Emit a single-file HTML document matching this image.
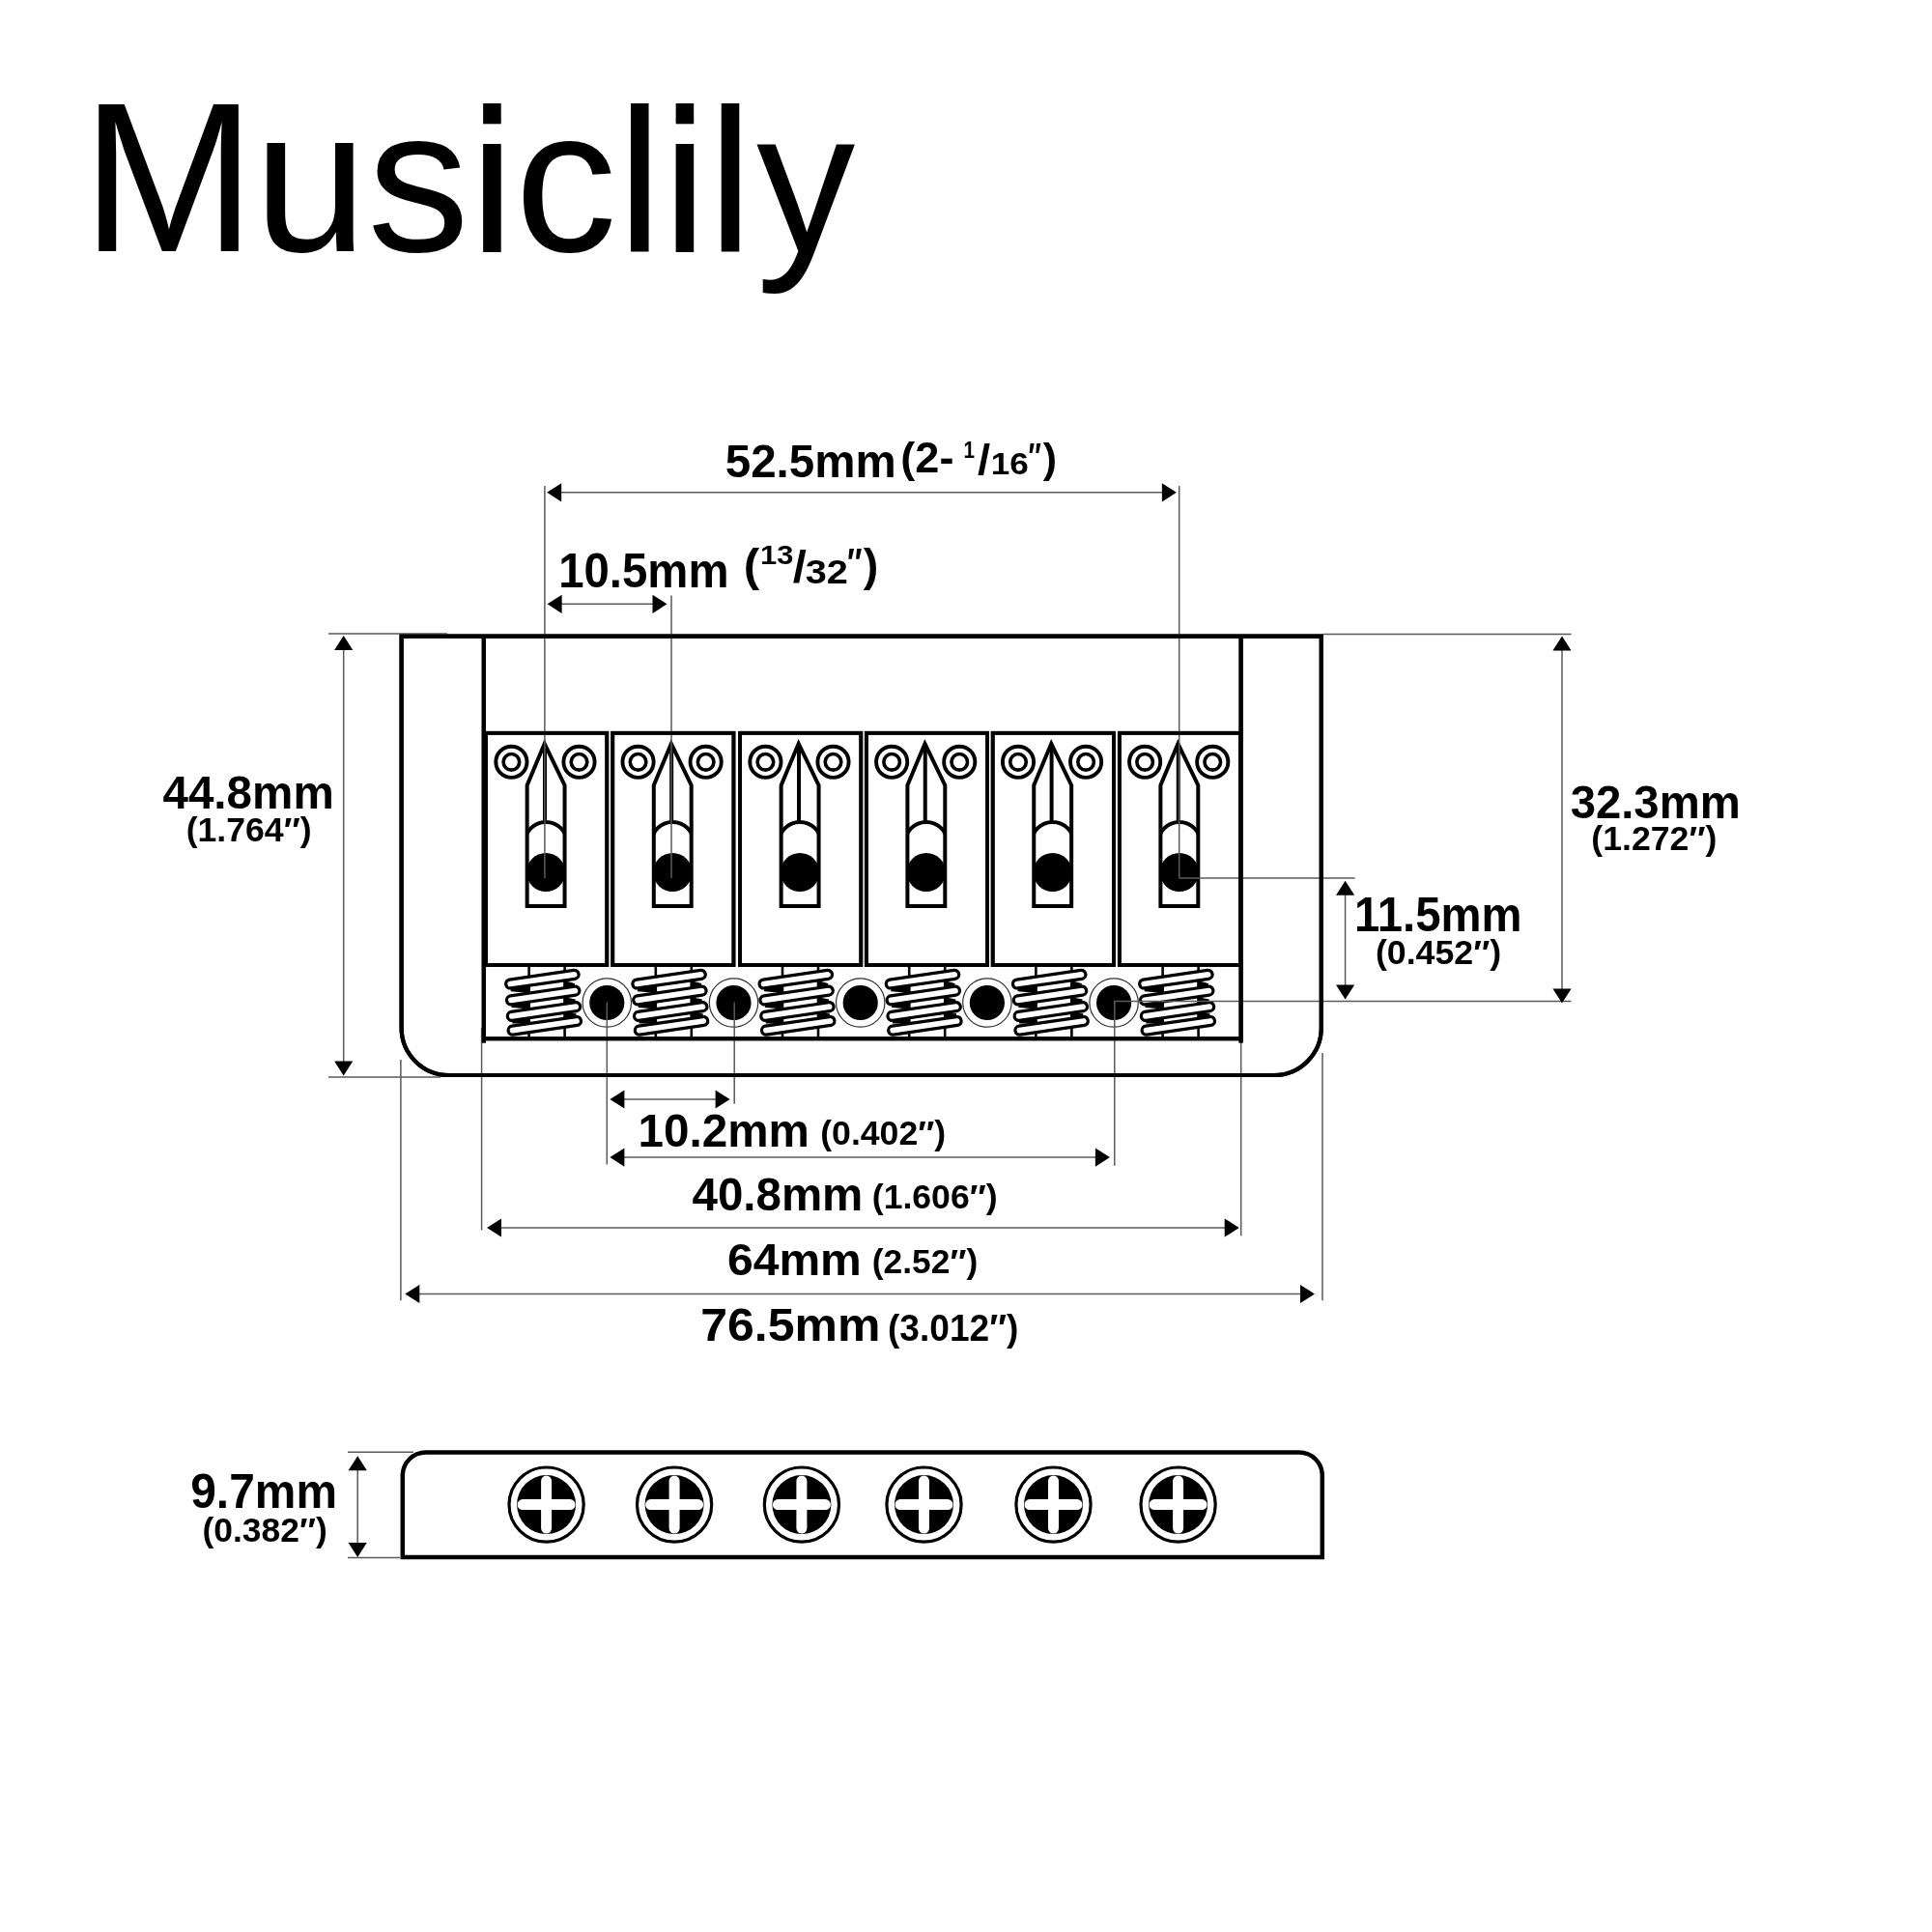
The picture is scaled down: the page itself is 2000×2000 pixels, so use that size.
<!DOCTYPE html><html><head><meta charset="utf-8"><style>html,body{margin:0;padding:0;background:#fff;width:2000px;height:2000px;overflow:hidden}svg{display:block;will-change:transform}text{font-family:"Liberation Sans",sans-serif;fill:#000}</style></head><body>
<svg width="2000" height="2000" viewBox="0 0 2000 2000">
<rect width="2000" height="2000" fill="#fff"/>
<path d="M415.6,658.6 H1367.8 V1064 A49,49 0 0 1 1318.8,1113 H464.6 A49,49 0 0 1 415.6,1064 Z" fill="none" stroke="#000" stroke-width="4.2"/>
<path d="M500.8,658.6 V1079.5 M1284.6,658.6 V1079.5" stroke="#000" stroke-width="4.2"/>
<line x1="500.8" y1="1075.3" x2="1284.6" y2="1075.3" stroke="#000" stroke-width="4"/>
<rect x="503.1" y="758.8" width="125.2" height="240.2" fill="none" stroke="#000" stroke-width="3.8"/>
<circle cx="529.4" cy="788.8" r="16.1" fill="none" stroke="#000" stroke-width="3.9"/>
<circle cx="529.4" cy="788.8" r="8.3" fill="none" stroke="#000" stroke-width="3.6"/>
<circle cx="599.5" cy="788.8" r="16.1" fill="none" stroke="#000" stroke-width="3.9"/>
<circle cx="599.5" cy="788.8" r="8.3" fill="none" stroke="#000" stroke-width="3.6"/>
<clipPath id="ca0"><rect x="545.65" y="840" width="38.9" height="24"/></clipPath>
<clipPath id="cb0"><rect x="543.65" y="870" width="42.9" height="60"/></clipPath>
<circle cx="565.1" cy="873" r="22" fill="none" stroke="#000" stroke-width="4" clip-path="url(#ca0)"/>
<circle cx="565.1" cy="903" r="20" fill="#000" clip-path="url(#cb0)"/>
<path d="M545.65,938 V813 L563.7,769.8 L584.55,813 V938 Z" fill="none" stroke="#000" stroke-width="4" stroke-miterlimit="10"/>
<line x1="564" y1="772" x2="564" y2="851" stroke="#000" stroke-width="4"/>
<rect x="634.25" y="758.8" width="125.2" height="240.2" fill="none" stroke="#000" stroke-width="3.8"/>
<circle cx="660.55" cy="788.8" r="16.1" fill="none" stroke="#000" stroke-width="3.9"/>
<circle cx="660.55" cy="788.8" r="8.3" fill="none" stroke="#000" stroke-width="3.6"/>
<circle cx="730.65" cy="788.8" r="16.1" fill="none" stroke="#000" stroke-width="3.9"/>
<circle cx="730.65" cy="788.8" r="8.3" fill="none" stroke="#000" stroke-width="3.6"/>
<clipPath id="ca1"><rect x="676.8" y="840" width="38.9" height="24"/></clipPath>
<clipPath id="cb1"><rect x="674.8" y="870" width="42.9" height="60"/></clipPath>
<circle cx="696.25" cy="873" r="22" fill="none" stroke="#000" stroke-width="4" clip-path="url(#ca1)"/>
<circle cx="696.25" cy="903" r="20" fill="#000" clip-path="url(#cb1)"/>
<path d="M676.8,938 V813 L694.85,769.8 L715.7,813 V938 Z" fill="none" stroke="#000" stroke-width="4" stroke-miterlimit="10"/>
<line x1="695.15" y1="772" x2="695.15" y2="851" stroke="#000" stroke-width="4"/>
<rect x="766.1" y="758.8" width="125.2" height="240.2" fill="none" stroke="#000" stroke-width="3.8"/>
<circle cx="792.4" cy="788.8" r="16.1" fill="none" stroke="#000" stroke-width="3.9"/>
<circle cx="792.4" cy="788.8" r="8.3" fill="none" stroke="#000" stroke-width="3.6"/>
<circle cx="862.5" cy="788.8" r="16.1" fill="none" stroke="#000" stroke-width="3.9"/>
<circle cx="862.5" cy="788.8" r="8.3" fill="none" stroke="#000" stroke-width="3.6"/>
<clipPath id="ca2"><rect x="808.65" y="840" width="38.9" height="24"/></clipPath>
<clipPath id="cb2"><rect x="806.65" y="870" width="42.9" height="60"/></clipPath>
<circle cx="828.1" cy="873" r="22" fill="none" stroke="#000" stroke-width="4" clip-path="url(#ca2)"/>
<circle cx="828.1" cy="903" r="20" fill="#000" clip-path="url(#cb2)"/>
<path d="M808.65,938 V813 L826.7,769.8 L847.55,813 V938 Z" fill="none" stroke="#000" stroke-width="4" stroke-miterlimit="10"/>
<line x1="827" y1="772" x2="827" y2="851" stroke="#000" stroke-width="4"/>
<rect x="896.85" y="758.8" width="125.2" height="240.2" fill="none" stroke="#000" stroke-width="3.8"/>
<circle cx="923.15" cy="788.8" r="16.1" fill="none" stroke="#000" stroke-width="3.9"/>
<circle cx="923.15" cy="788.8" r="8.3" fill="none" stroke="#000" stroke-width="3.6"/>
<circle cx="993.25" cy="788.8" r="16.1" fill="none" stroke="#000" stroke-width="3.9"/>
<circle cx="993.25" cy="788.8" r="8.3" fill="none" stroke="#000" stroke-width="3.6"/>
<clipPath id="ca3"><rect x="939.4" y="840" width="38.9" height="24"/></clipPath>
<clipPath id="cb3"><rect x="937.4" y="870" width="42.9" height="60"/></clipPath>
<circle cx="958.85" cy="873" r="22" fill="none" stroke="#000" stroke-width="4" clip-path="url(#ca3)"/>
<circle cx="958.85" cy="903" r="20" fill="#000" clip-path="url(#cb3)"/>
<path d="M939.4,938 V813 L957.45,769.8 L978.3,813 V938 Z" fill="none" stroke="#000" stroke-width="4" stroke-miterlimit="10"/>
<line x1="957.75" y1="772" x2="957.75" y2="851" stroke="#000" stroke-width="4"/>
<rect x="1027.7" y="758.8" width="125.2" height="240.2" fill="none" stroke="#000" stroke-width="3.8"/>
<circle cx="1054" cy="788.8" r="16.1" fill="none" stroke="#000" stroke-width="3.9"/>
<circle cx="1054" cy="788.8" r="8.3" fill="none" stroke="#000" stroke-width="3.6"/>
<circle cx="1124.1" cy="788.8" r="16.1" fill="none" stroke="#000" stroke-width="3.9"/>
<circle cx="1124.1" cy="788.8" r="8.3" fill="none" stroke="#000" stroke-width="3.6"/>
<clipPath id="ca4"><rect x="1070.25" y="840" width="38.9" height="24"/></clipPath>
<clipPath id="cb4"><rect x="1068.25" y="870" width="42.9" height="60"/></clipPath>
<circle cx="1089.7" cy="873" r="22" fill="none" stroke="#000" stroke-width="4" clip-path="url(#ca4)"/>
<circle cx="1089.7" cy="903" r="20" fill="#000" clip-path="url(#cb4)"/>
<path d="M1070.25,938 V813 L1088.3,769.8 L1109.15,813 V938 Z" fill="none" stroke="#000" stroke-width="4" stroke-miterlimit="10"/>
<line x1="1088.6" y1="772" x2="1088.6" y2="851" stroke="#000" stroke-width="4"/>
<rect x="1158.85" y="758.8" width="125.2" height="240.2" fill="none" stroke="#000" stroke-width="3.8"/>
<circle cx="1185.15" cy="788.8" r="16.1" fill="none" stroke="#000" stroke-width="3.9"/>
<circle cx="1185.15" cy="788.8" r="8.3" fill="none" stroke="#000" stroke-width="3.6"/>
<circle cx="1255.25" cy="788.8" r="16.1" fill="none" stroke="#000" stroke-width="3.9"/>
<circle cx="1255.25" cy="788.8" r="8.3" fill="none" stroke="#000" stroke-width="3.6"/>
<clipPath id="ca5"><rect x="1201.4" y="840" width="38.9" height="24"/></clipPath>
<clipPath id="cb5"><rect x="1199.4" y="870" width="42.9" height="60"/></clipPath>
<circle cx="1220.85" cy="873" r="22" fill="none" stroke="#000" stroke-width="4" clip-path="url(#ca5)"/>
<circle cx="1220.85" cy="903" r="20" fill="#000" clip-path="url(#cb5)"/>
<path d="M1201.4,938 V813 L1219.45,769.8 L1240.3,813 V938 Z" fill="none" stroke="#000" stroke-width="4" stroke-miterlimit="10"/>
<line x1="1219.75" y1="772" x2="1219.75" y2="851" stroke="#000" stroke-width="4"/>
<line x1="547.6" y1="999" x2="547.6" y2="1075" stroke="#000" stroke-width="2.6"/>
<line x1="584.6" y1="999" x2="584.6" y2="1075" stroke="#000" stroke-width="2.6"/>
<rect x="-38.05" y="-4.5" width="76.09" height="9" rx="4.5" fill="#fff" stroke="#000" stroke-width="3.2" transform="translate(561.4,1013.7) rotate(-8.23)"/>
<rect x="-38.05" y="-4.5" width="76.09" height="9" rx="4.5" fill="#fff" stroke="#000" stroke-width="3.2" transform="translate(562.2,1030.5) rotate(-8.23)"/>
<rect x="-38.05" y="-4.5" width="76.09" height="9" rx="4.5" fill="#fff" stroke="#000" stroke-width="3.2" transform="translate(563,1047) rotate(-8.23)"/>
<rect x="-38.05" y="-4.5" width="76.09" height="9" rx="4.5" fill="#fff" stroke="#000" stroke-width="3.2" transform="translate(563.8,1061.8) rotate(-8.23)"/>
<polygon points="528.7,1022.5 548.6,1020.05 548.6,1027.97 528.7,1026.2" fill="#000"/>
<polygon points="594.9,1021.7 583.6,1022.91 583.6,1014.99 594.9,1018" fill="#000"/>
<polygon points="529.5,1039.3 548.6,1036.97 548.6,1044.58 529.5,1043" fill="#000"/>
<polygon points="595.7,1038.2 583.6,1039.52 583.6,1031.91 595.7,1034.5" fill="#000"/>
<polygon points="530.3,1055.8 548.6,1053.58 548.6,1059.5 530.3,1059.5" fill="#000"/>
<polygon points="596.5,1053 583.6,1054.44 583.6,1048.52 596.5,1049.3" fill="#000"/>
<line x1="678.8" y1="999" x2="678.8" y2="1075" stroke="#000" stroke-width="2.6"/>
<line x1="715.8" y1="999" x2="715.8" y2="1075" stroke="#000" stroke-width="2.6"/>
<rect x="-38.05" y="-4.5" width="76.09" height="9" rx="4.5" fill="#fff" stroke="#000" stroke-width="3.2" transform="translate(692.6,1013.7) rotate(-8.23)"/>
<rect x="-38.05" y="-4.5" width="76.09" height="9" rx="4.5" fill="#fff" stroke="#000" stroke-width="3.2" transform="translate(693.4,1030.5) rotate(-8.23)"/>
<rect x="-38.05" y="-4.5" width="76.09" height="9" rx="4.5" fill="#fff" stroke="#000" stroke-width="3.2" transform="translate(694.2,1047) rotate(-8.23)"/>
<rect x="-38.05" y="-4.5" width="76.09" height="9" rx="4.5" fill="#fff" stroke="#000" stroke-width="3.2" transform="translate(695,1061.8) rotate(-8.23)"/>
<polygon points="659.9,1022.5 679.8,1020.05 679.8,1027.97 659.9,1026.2" fill="#000"/>
<polygon points="726.1,1021.7 714.8,1022.91 714.8,1014.99 726.1,1018" fill="#000"/>
<polygon points="660.7,1039.3 679.8,1036.97 679.8,1044.58 660.7,1043" fill="#000"/>
<polygon points="726.9,1038.2 714.8,1039.52 714.8,1031.91 726.9,1034.5" fill="#000"/>
<polygon points="661.5,1055.8 679.8,1053.58 679.8,1059.5 661.5,1059.5" fill="#000"/>
<polygon points="727.7,1053 714.8,1054.44 714.8,1048.52 727.7,1049.3" fill="#000"/>
<line x1="810" y1="999" x2="810" y2="1075" stroke="#000" stroke-width="2.6"/>
<line x1="847" y1="999" x2="847" y2="1075" stroke="#000" stroke-width="2.6"/>
<rect x="-38.05" y="-4.5" width="76.09" height="9" rx="4.5" fill="#fff" stroke="#000" stroke-width="3.2" transform="translate(823.8,1013.7) rotate(-8.23)"/>
<rect x="-38.05" y="-4.5" width="76.09" height="9" rx="4.5" fill="#fff" stroke="#000" stroke-width="3.2" transform="translate(824.6,1030.5) rotate(-8.23)"/>
<rect x="-38.05" y="-4.5" width="76.09" height="9" rx="4.5" fill="#fff" stroke="#000" stroke-width="3.2" transform="translate(825.4,1047) rotate(-8.23)"/>
<rect x="-38.05" y="-4.5" width="76.09" height="9" rx="4.5" fill="#fff" stroke="#000" stroke-width="3.2" transform="translate(826.2,1061.8) rotate(-8.23)"/>
<polygon points="791.1,1022.5 811,1020.05 811,1027.97 791.1,1026.2" fill="#000"/>
<polygon points="857.3,1021.7 846,1022.91 846,1014.99 857.3,1018" fill="#000"/>
<polygon points="791.9,1039.3 811,1036.97 811,1044.58 791.9,1043" fill="#000"/>
<polygon points="858.1,1038.2 846,1039.52 846,1031.91 858.1,1034.5" fill="#000"/>
<polygon points="792.7,1055.8 811,1053.58 811,1059.5 792.7,1059.5" fill="#000"/>
<polygon points="858.9,1053 846,1054.44 846,1048.52 858.9,1049.3" fill="#000"/>
<line x1="941.2" y1="999" x2="941.2" y2="1075" stroke="#000" stroke-width="2.6"/>
<line x1="978.2" y1="999" x2="978.2" y2="1075" stroke="#000" stroke-width="2.6"/>
<rect x="-38.05" y="-4.5" width="76.09" height="9" rx="4.5" fill="#fff" stroke="#000" stroke-width="3.2" transform="translate(955,1013.7) rotate(-8.23)"/>
<rect x="-38.05" y="-4.5" width="76.09" height="9" rx="4.5" fill="#fff" stroke="#000" stroke-width="3.2" transform="translate(955.8,1030.5) rotate(-8.23)"/>
<rect x="-38.05" y="-4.5" width="76.09" height="9" rx="4.5" fill="#fff" stroke="#000" stroke-width="3.2" transform="translate(956.6,1047) rotate(-8.23)"/>
<rect x="-38.05" y="-4.5" width="76.09" height="9" rx="4.5" fill="#fff" stroke="#000" stroke-width="3.2" transform="translate(957.4,1061.8) rotate(-8.23)"/>
<polygon points="922.3,1022.5 942.2,1020.05 942.2,1027.97 922.3,1026.2" fill="#000"/>
<polygon points="988.5,1021.7 977.2,1022.91 977.2,1014.99 988.5,1018" fill="#000"/>
<polygon points="923.1,1039.3 942.2,1036.97 942.2,1044.58 923.1,1043" fill="#000"/>
<polygon points="989.3,1038.2 977.2,1039.52 977.2,1031.91 989.3,1034.5" fill="#000"/>
<polygon points="923.9,1055.8 942.2,1053.58 942.2,1059.5 923.9,1059.5" fill="#000"/>
<polygon points="990.1,1053 977.2,1054.44 977.2,1048.52 990.1,1049.3" fill="#000"/>
<line x1="1072.4" y1="999" x2="1072.4" y2="1075" stroke="#000" stroke-width="2.6"/>
<line x1="1109.4" y1="999" x2="1109.4" y2="1075" stroke="#000" stroke-width="2.6"/>
<rect x="-38.05" y="-4.5" width="76.09" height="9" rx="4.5" fill="#fff" stroke="#000" stroke-width="3.2" transform="translate(1086.2,1013.7) rotate(-8.23)"/>
<rect x="-38.05" y="-4.5" width="76.09" height="9" rx="4.5" fill="#fff" stroke="#000" stroke-width="3.2" transform="translate(1087,1030.5) rotate(-8.23)"/>
<rect x="-38.05" y="-4.5" width="76.09" height="9" rx="4.5" fill="#fff" stroke="#000" stroke-width="3.2" transform="translate(1087.8,1047) rotate(-8.23)"/>
<rect x="-38.05" y="-4.5" width="76.09" height="9" rx="4.5" fill="#fff" stroke="#000" stroke-width="3.2" transform="translate(1088.6,1061.8) rotate(-8.23)"/>
<polygon points="1053.5,1022.5 1073.4,1020.05 1073.4,1027.97 1053.5,1026.2" fill="#000"/>
<polygon points="1119.7,1021.7 1108.4,1022.91 1108.4,1014.99 1119.7,1018" fill="#000"/>
<polygon points="1054.3,1039.3 1073.4,1036.97 1073.4,1044.58 1054.3,1043" fill="#000"/>
<polygon points="1120.5,1038.2 1108.4,1039.52 1108.4,1031.91 1120.5,1034.5" fill="#000"/>
<polygon points="1055.1,1055.8 1073.4,1053.58 1073.4,1059.5 1055.1,1059.5" fill="#000"/>
<polygon points="1121.3,1053 1108.4,1054.44 1108.4,1048.52 1121.3,1049.3" fill="#000"/>
<line x1="1203.6" y1="999" x2="1203.6" y2="1075" stroke="#000" stroke-width="2.6"/>
<line x1="1240.6" y1="999" x2="1240.6" y2="1075" stroke="#000" stroke-width="2.6"/>
<rect x="-38.05" y="-4.5" width="76.09" height="9" rx="4.5" fill="#fff" stroke="#000" stroke-width="3.2" transform="translate(1217.4,1013.7) rotate(-8.23)"/>
<rect x="-38.05" y="-4.5" width="76.09" height="9" rx="4.5" fill="#fff" stroke="#000" stroke-width="3.2" transform="translate(1218.2,1030.5) rotate(-8.23)"/>
<rect x="-38.05" y="-4.5" width="76.09" height="9" rx="4.5" fill="#fff" stroke="#000" stroke-width="3.2" transform="translate(1219,1047) rotate(-8.23)"/>
<rect x="-38.05" y="-4.5" width="76.09" height="9" rx="4.5" fill="#fff" stroke="#000" stroke-width="3.2" transform="translate(1219.8,1061.8) rotate(-8.23)"/>
<polygon points="1184.7,1022.5 1204.6,1020.05 1204.6,1027.97 1184.7,1026.2" fill="#000"/>
<polygon points="1250.9,1021.7 1239.6,1022.91 1239.6,1014.99 1250.9,1018" fill="#000"/>
<polygon points="1185.5,1039.3 1204.6,1036.97 1204.6,1044.58 1185.5,1043" fill="#000"/>
<polygon points="1251.7,1038.2 1239.6,1039.52 1239.6,1031.91 1251.7,1034.5" fill="#000"/>
<polygon points="1186.3,1055.8 1204.6,1053.58 1204.6,1059.5 1186.3,1059.5" fill="#000"/>
<polygon points="1252.5,1053 1239.6,1054.44 1239.6,1048.52 1252.5,1049.3" fill="#000"/>
<circle cx="628.3" cy="1038" r="25.2" fill="none" stroke="#333" stroke-width="1.2"/>
<circle cx="628.3" cy="1038" r="18.1" fill="#000"/>
<circle cx="759.5" cy="1038" r="25.2" fill="none" stroke="#333" stroke-width="1.2"/>
<circle cx="759.5" cy="1038" r="18.1" fill="#000"/>
<circle cx="890.7" cy="1038" r="25.2" fill="none" stroke="#333" stroke-width="1.2"/>
<circle cx="890.7" cy="1038" r="18.1" fill="#000"/>
<circle cx="1021.9" cy="1038" r="25.2" fill="none" stroke="#333" stroke-width="1.2"/>
<circle cx="1021.9" cy="1038" r="18.1" fill="#000"/>
<circle cx="1153.1" cy="1038" r="25.2" fill="none" stroke="#333" stroke-width="1.2"/>
<circle cx="1153.1" cy="1038" r="18.1" fill="#000"/>
<line x1="563.9" y1="503" x2="563.9" y2="909" stroke="#5a5a5a" stroke-width="1.5"/>
<line x1="1220.7" y1="503" x2="1220.7" y2="909" stroke="#5a5a5a" stroke-width="1.5"/>
<line x1="574.2" y1="509.8" x2="1209.9" y2="509.8" stroke="#5a5a5a" stroke-width="1.5"/>
<polygon points="566.2,509.8 581.2,500.2 581.2,519.4" fill="#000"/>
<polygon points="1217.9,509.8 1202.9,500.2 1202.9,519.4" fill="#000"/>
<line x1="695" y1="616.5" x2="695" y2="909" stroke="#5a5a5a" stroke-width="1.5"/>
<line x1="574.6" y1="625.3" x2="682.5" y2="625.3" stroke="#5a5a5a" stroke-width="1.5"/>
<polygon points="566.6,625.3 581.6,615.7 581.6,634.9" fill="#000"/>
<polygon points="690.5,625.3 675.5,615.7 675.5,634.9" fill="#000"/>
<line x1="340" y1="656" x2="463" y2="656" stroke="#5a5a5a" stroke-width="1.5"/>
<line x1="340" y1="1115" x2="456" y2="1115" stroke="#5a5a5a" stroke-width="1.5"/>
<line x1="355.7" y1="666.1" x2="355.7" y2="1105.5" stroke="#5a5a5a" stroke-width="1.5"/>
<polygon points="355.7,658.1 346.1,673.1 365.3,673.1" fill="#000"/>
<polygon points="355.7,1113.5 346.1,1098.5 365.3,1098.5" fill="#000"/>
<line x1="1370" y1="656.4" x2="1626.5" y2="656.4" stroke="#5a5a5a" stroke-width="1.5"/>
<line x1="1153" y1="1036.4" x2="1626.5" y2="1036.4" stroke="#5a5a5a" stroke-width="1.5"/>
<line x1="1617" y1="666.5" x2="1617" y2="1030.5" stroke="#5a5a5a" stroke-width="1.5"/>
<polygon points="1617,658.5 1607.4,673.5 1626.6,673.5" fill="#000"/>
<polygon points="1617,1038.5 1607.4,1023.5 1626.6,1023.5" fill="#000"/>
<line x1="1220.7" y1="909.1" x2="1402.6" y2="909.1" stroke="#5a5a5a" stroke-width="1.5"/>
<line x1="1392.6" y1="919.7" x2="1392.6" y2="1026.5" stroke="#5a5a5a" stroke-width="1.5"/>
<polygon points="1392.6,911.7 1383,926.7 1402.2,926.7" fill="#000"/>
<polygon points="1392.6,1034.5 1383,1019.5 1402.2,1019.5" fill="#000"/>
<line x1="414.9" y1="1097" x2="414.9" y2="1346.2" stroke="#5a5a5a" stroke-width="1.5"/>
<line x1="498.6" y1="1064" x2="498.6" y2="1273.4" stroke="#5a5a5a" stroke-width="1.5"/>
<line x1="628.3" y1="1037.6" x2="628.3" y2="1205.5" stroke="#5a5a5a" stroke-width="1.5"/>
<line x1="760.2" y1="1037.6" x2="760.2" y2="1142.8" stroke="#5a5a5a" stroke-width="1.5"/>
<line x1="1153.8" y1="1036" x2="1153.8" y2="1206.7" stroke="#5a5a5a" stroke-width="1.5"/>
<line x1="1284.7" y1="1079" x2="1284.7" y2="1279.3" stroke="#5a5a5a" stroke-width="1.5"/>
<line x1="1369" y1="1090" x2="1369" y2="1346.2" stroke="#5a5a5a" stroke-width="1.5"/>
<line x1="639.4" y1="1138" x2="747.6" y2="1138" stroke="#5a5a5a" stroke-width="1.5"/>
<polygon points="631.4,1138 646.4,1128.4 646.4,1147.6" fill="#000"/>
<polygon points="755.6,1138 740.6,1128.4 740.6,1147.6" fill="#000"/>
<line x1="639.4" y1="1198.1" x2="1140.9" y2="1198.1" stroke="#5a5a5a" stroke-width="1.5"/>
<polygon points="631.4,1198.1 646.4,1188.5 646.4,1207.7" fill="#000"/>
<polygon points="1148.9,1198.1 1133.9,1188.5 1133.9,1207.7" fill="#000"/>
<line x1="512" y1="1271" x2="1274.7" y2="1271" stroke="#5a5a5a" stroke-width="1.5"/>
<polygon points="504,1271 519,1261.4 519,1280.6" fill="#000"/>
<polygon points="1282.7,1271 1267.7,1261.4 1267.7,1280.6" fill="#000"/>
<line x1="427.3" y1="1339.5" x2="1353" y2="1339.5" stroke="#5a5a5a" stroke-width="1.5"/>
<polygon points="419.3,1339.5 434.3,1329.9 434.3,1349.1" fill="#000"/>
<polygon points="1361,1339.5 1346,1329.9 1346,1349.1" fill="#000"/>
<path d="M415.6,658.6 H1367.8 V1064 A49,49 0 0 1 1318.8,1113 H464.6 A49,49 0 0 1 415.6,1064 Z" fill="none" stroke="#000" stroke-width="4.2"/>
<path d="M500.8,658.6 V1079.5 M1284.6,658.6 V1079.5" stroke="#000" stroke-width="4.2"/>
<line x1="500.8" y1="1075.3" x2="1284.6" y2="1075.3" stroke="#000" stroke-width="4"/>
<rect x="503.1" y="758.8" width="125.2" height="240.2" fill="none" stroke="#000" stroke-width="3.8"/>
<rect x="634.25" y="758.8" width="125.2" height="240.2" fill="none" stroke="#000" stroke-width="3.8"/>
<rect x="766.1" y="758.8" width="125.2" height="240.2" fill="none" stroke="#000" stroke-width="3.8"/>
<rect x="896.85" y="758.8" width="125.2" height="240.2" fill="none" stroke="#000" stroke-width="3.8"/>
<rect x="1027.7" y="758.8" width="125.2" height="240.2" fill="none" stroke="#000" stroke-width="3.8"/>
<rect x="1158.85" y="758.8" width="125.2" height="240.2" fill="none" stroke="#000" stroke-width="3.8"/>
<path d="M416.8,1612 V1527.5 A24,24 0 0 1 440.8,1503.5 H1344.8 A24,24 0 0 1 1368.8,1527.5 V1612 Z" fill="none" stroke="#000" stroke-width="4.5"/>
<line x1="360" y1="1503.3" x2="428" y2="1503.3" stroke="#5a5a5a" stroke-width="1.5"/>
<line x1="360" y1="1612.5" x2="414" y2="1612.5" stroke="#5a5a5a" stroke-width="1.5"/>
<line x1="370.2" y1="1515.2" x2="370.2" y2="1604" stroke="#5a5a5a" stroke-width="1.5"/>
<polygon points="370.2,1507.2 360.6,1522.2 379.8,1522.2" fill="#000"/>
<polygon points="370.2,1612 360.6,1597 379.8,1597" fill="#000"/>
<circle cx="565.6" cy="1557.6" r="38.6" fill="none" stroke="#000" stroke-width="3.2"/>
<circle cx="565.6" cy="1557.6" r="30.5" fill="#000"/>
<path d="M565.6,1533.1 V1582.1 M541.1,1557.6 H590.1" stroke="#fff" stroke-width="11" stroke-linecap="round"/>
<circle cx="698.1" cy="1557.6" r="38.6" fill="none" stroke="#000" stroke-width="3.2"/>
<circle cx="698.1" cy="1557.6" r="30.5" fill="#000"/>
<path d="M698.1,1533.1 V1582.1 M673.6,1557.6 H722.6" stroke="#fff" stroke-width="11" stroke-linecap="round"/>
<circle cx="829.9" cy="1557.6" r="38.6" fill="none" stroke="#000" stroke-width="3.2"/>
<circle cx="829.9" cy="1557.6" r="30.5" fill="#000"/>
<path d="M829.9,1533.1 V1582.1 M805.4,1557.6 H854.4" stroke="#fff" stroke-width="11" stroke-linecap="round"/>
<circle cx="956.5" cy="1557.6" r="38.6" fill="none" stroke="#000" stroke-width="3.2"/>
<circle cx="956.5" cy="1557.6" r="30.5" fill="#000"/>
<path d="M956.5,1533.1 V1582.1 M932,1557.6 H981" stroke="#fff" stroke-width="11" stroke-linecap="round"/>
<circle cx="1090.5" cy="1557.6" r="38.6" fill="none" stroke="#000" stroke-width="3.2"/>
<circle cx="1090.5" cy="1557.6" r="30.5" fill="#000"/>
<path d="M1090.5,1533.1 V1582.1 M1066,1557.6 H1115" stroke="#fff" stroke-width="11" stroke-linecap="round"/>
<circle cx="1219.6" cy="1557.6" r="38.6" fill="none" stroke="#000" stroke-width="3.2"/>
<circle cx="1219.6" cy="1557.6" r="30.5" fill="#000"/>
<path d="M1219.6,1533.1 V1582.1 M1195.1,1557.6 H1244.1" stroke="#fff" stroke-width="11" stroke-linecap="round"/>
<text transform="translate(84.49,259.70) scale(0.9771,1)" font-size="221.30" font-weight="normal">M</text>
<text transform="translate(262.84,259.97) scale(0.9969,1)" font-size="211.99" font-weight="normal">usiclil</text>
<text transform="translate(783.02,259.50) scale(0.9786,1)" font-size="209.01" font-weight="normal">y</text>
<text transform="translate(750.74,494.00) scale(0.9827,1)" font-size="48.33" font-weight="bold">52.5mm</text>
<text transform="translate(578.21,608.00) scale(0.9627,1)" font-size="49.18" font-weight="bold">10.5mm</text>
<text transform="translate(168.44,837.41) scale(0.9844,1)" font-size="48.35" font-weight="bold">44.8mm</text>
<text transform="translate(1625.67,846.83) scale(0.9763,1)" font-size="48.41" font-weight="bold">32.3mm</text>
<text transform="translate(1402.12,963.53) scale(0.9582,1)" font-size="49.31" font-weight="bold">11.5mm</text>
<text transform="translate(660.48,1186.87) scale(0.9909,1)" font-size="48.06" font-weight="bold">10.2mm</text>
<text transform="translate(716.47,1253.31) scale(0.9689,1)" font-size="49.01" font-weight="bold">40.8mm</text>
<text transform="translate(752.91,1320.00) scale(1.0197,1)" font-size="47.16" font-weight="bold">64mm</text>
<text transform="translate(725.27,1388.13) scale(1.0466,1)" font-size="47.77" font-weight="bold">76.5mm</text>
<text transform="translate(197.23,1561.13) scale(0.9703,1)" font-size="49.38" font-weight="bold">9.7mm</text>
<text transform="translate(192.65,871.47) scale(0.9988,1)" font-size="35.70" font-weight="bold">(1.764″)</text>
<text transform="translate(1647.37,880.43) scale(0.9986,1)" font-size="35.70" font-weight="bold">(1.272″)</text>
<text transform="translate(1423.95,997.82) scale(1.0096,1)" font-size="35.37" font-weight="bold">(0.452″)</text>
<text transform="translate(849.25,1185.38) scale(0.9921,1)" font-size="35.89" font-weight="bold">(0.402″)</text>
<text transform="translate(902.79,1251.17) scale(0.9946,1)" font-size="35.79" font-weight="bold">(1.606″)</text>
<text transform="translate(902.79,1317.56) scale(1.0011,1)" font-size="35.37" font-weight="bold">(2.52″)</text>
<text transform="translate(919.01,1387.72) scale(0.9687,1)" font-size="38.32" font-weight="bold">(3.012″)</text>
<text transform="translate(209.42,1596.02) scale(1.0088,1)" font-size="35.15" font-weight="bold">(0.382″)</text>
<text transform="translate(932.33,488.66) scale(1.0339,1)" font-size="43.60" font-weight="bold">(2-</text>
<text transform="translate(997.56,473.70) scale(0.8627,1)" font-size="24.00" font-weight="bold">1</text>
<text transform="translate(1012.03,491.28) scale(1.0705,1)" font-size="44.24" font-weight="bold">/</text>
<text transform="translate(1025.64,491.21) scale(1.1383,1)" font-size="30.84" font-weight="bold">16</text>
<text transform="translate(1064.40,485.81) scale(0.7282,1)" font-size="38.41" font-weight="bold">″</text>
<text transform="translate(1079.70,488.94) scale(1.0097,1)" font-size="42.55" font-weight="bold">)</text>
<text transform="translate(769.78,601.08) scale(1.0585,1)" font-size="46.91" font-weight="bold">(</text>
<text transform="translate(787.00,584.41) scale(1.0936,1)" font-size="28.24" font-weight="bold">13</text>
<text transform="translate(820.65,602.52) scale(1.0768,1)" font-size="47.05" font-weight="bold">/</text>
<text transform="translate(833.75,603.50) scale(1.1533,1)" font-size="34.42" font-weight="bold">32</text>
<text transform="translate(877.11,596.52) scale(0.7451,1)" font-size="43.35" font-weight="bold">″</text>
<text transform="translate(893.77,601.08) scale(0.9959,1)" font-size="46.91" font-weight="bold">)</text>
<rect x="500.15" y="123.5" width="18.53" height="4.8" fill="#000"/>
<rect x="699.63" y="123.5" width="18.57" height="4.8" fill="#000"/>
</svg></body></html>
